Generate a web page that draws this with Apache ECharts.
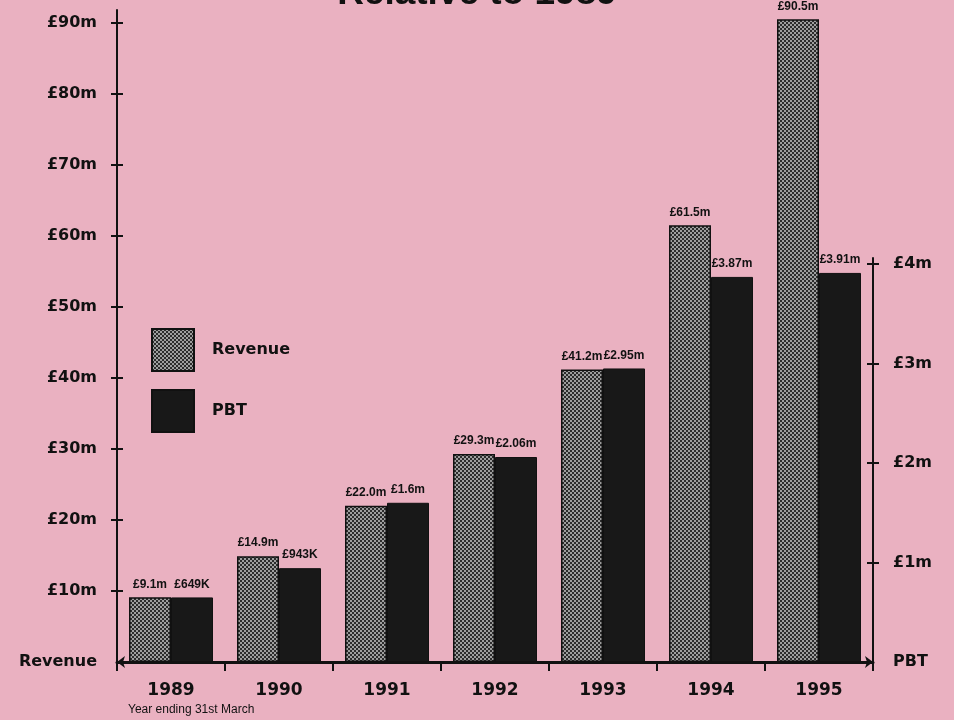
<!DOCTYPE html>
<html>
<head>
<meta charset="utf-8">
<script src="https://cdn.jsdelivr.net/npm/echarts@6/dist/echarts.min.js"></script>
<style>
html,body{margin:0;padding:0;background:#eab1c1;}
#chart{width:954px;height:720px;}
</style>
</head>
<body>
<div id="chart"></div>
<script>
// ---- data ----
const years = ['1989','1990','1991','1992','1993','1994','1995'];
const revenue = [9.1, 14.9, 22.0, 29.3, 41.2, 61.5, 90.5];      // £m
const pbt = [0.649, 0.943, 1.6, 2.06, 2.95, 3.87, 3.91];          // £m
const revenueLabels = ['£9.1m','£14.9m','£22.0m','£29.3m','£41.2m','£61.5m','£90.5m'];
const pbtLabels = ['£649K','£943K','£1.6m','£2.06m','£2.95m','£3.87m','£3.91m'];
const leftTicks = [10,20,30,40,50,60,70,80,90];
const leftLabels = [0,10,20,30,40,50,60,70,80,90];
const rightTicks = [1,2,3,4];
const rightLabels = [0,1,2,3,4];

// checker pattern for revenue bars
const pc = document.createElement('canvas');
pc.width = 4; pc.height = 4;
const pctx = pc.getContext('2d');
pctx.fillStyle = '#9e9e9e'; pctx.fillRect(0,0,4,4);
pctx.fillStyle = '#2c2c2c';
pctx.fillRect(0,0,2,2); pctx.fillRect(2,2,2,2);
const checker = {image: pc, repeat: 'repeat'};

const FONT = 'DejaVu Sans';
const INK = '#111111';
const chart = echarts.init(document.getElementById('chart'), null, {renderer:'canvas'});

const gridL = 117, gridR = 81, gridB = 58;
const labelStyle = {fontFamily: 'Liberation Sans', fontWeight: 'bold', fontSize: 12, color: INK};

chart.setOption({
  backgroundColor: '#eab1c1',
  animation: false,
  title: {
    text: 'Relative to 1989', left: 'center', top: -25, padding: 0,
    textStyle: {fontFamily: 'Liberation Sans', fontWeight: 'bold', fontSize: 37, color: INK}
  },
  legend: {
    data: ['Revenue', 'PBT'], orient: 'vertical', left: 146, top: 323,
    itemWidth: 42, itemHeight: 42, itemGap: 17, icon: 'rect',
    textStyle: {fontFamily: FONT, fontWeight: 'bold', fontSize: 16, color: INK, padding: [0,0,0,13]}
  },
  grid: [
    {left: gridL, right: gridR, top: 10, bottom: gridB},
    {left: gridL, right: gridR, top: 258, bottom: gridB}
  ],
  xAxis: [
    {type: 'category', gridIndex: 0, data: years,
     axisLine: {show: true, lineStyle: {color: INK, width: 3}, symbol: ['arrow','arrow'], symbolSize: [9,8]},
     axisTick: {show: true, length: 9, lineStyle: {color: INK, width: 2}},
     axisLabel: {margin: 20, fontFamily: FONT, fontWeight: 'bold', fontSize: 17, color: INK},
     splitLine: {show: false}},
    {type: 'category', gridIndex: 1, data: years, show: false}
  ],
  yAxis: [
    {type: 'value', gridIndex: 0, position: 'left', min: 0, max: 91.8,
     axisLine: {show: true, lineStyle: {color: INK, width: 2}},
     axisTick: {show: true, length: 6, customValues: leftTicks, lineStyle: {color: INK, width: 2}},
     axisLabel: {margin: 20, customValues: leftLabels, fontFamily: FONT, fontWeight: 'bold', fontSize: 16, color: INK,
       formatter: v => v === 0 ? 'Revenue' : '£' + v + 'm'},
     splitLine: {show: false}},
    {type: 'value', gridIndex: 0, position: 'left', min: 0, max: 91.8,
     axisLine: {show: false}, axisLabel: {show: false}, splitLine: {show: false},
     axisTick: {show: true, inside: true, length: 6, customValues: leftTicks, lineStyle: {color: INK, width: 2}}},
    {type: 'value', gridIndex: 1, position: 'right', min: 0, max: 4.06,
     axisLine: {show: true, lineStyle: {color: INK, width: 2}},
     axisTick: {show: true, length: 6, customValues: rightTicks, lineStyle: {color: INK, width: 2}},
     axisLabel: {margin: 20, customValues: rightLabels, fontFamily: FONT, fontWeight: 'bold', fontSize: 16, color: INK,
       formatter: v => v === 0 ? 'PBT' : '£' + v + 'm'},
     splitLine: {show: false}},
    {type: 'value', gridIndex: 1, position: 'right', min: 0, max: 4.06,
     axisLine: {show: false}, axisLabel: {show: false}, splitLine: {show: false},
     axisTick: {show: true, inside: true, length: 6, customValues: rightTicks, lineStyle: {color: INK, width: 2}}}
  ],
  series: [
    {name: 'Revenue', type: 'bar', xAxisIndex: 0, yAxisIndex: 0, data: revenue,
     barWidth: 42, barGap: '0%',
     itemStyle: {color: checker, borderColor: INK, borderWidth: 1.5},
     label: {show: true, position: 'top', distance: 7, ...labelStyle,
       formatter: p => revenueLabels[p.dataIndex]}},
    {name: 'spacerA', type: 'bar', xAxisIndex: 0, yAxisIndex: 0, data: [], barWidth: 42, barGap: '0%'},
    {name: 'spacerB', type: 'bar', xAxisIndex: 1, yAxisIndex: 2, data: [], barWidth: 42, barGap: '0%'},
    {name: 'PBT', type: 'bar', xAxisIndex: 1, yAxisIndex: 2, data: pbt,
     barWidth: 42, barGap: '0%',
     itemStyle: {color: '#181818', borderColor: INK, borderWidth: 1},
     label: {show: true, position: 'top', distance: 7, ...labelStyle,
       formatter: p => pbtLabels[p.dataIndex]}}
  ],
  graphic: [
    {type: 'text', left: 128, top: 704,
     style: {text: 'Year ending 31st March', fontFamily: 'Liberation Sans Narrow, Liberation Sans', fontSize: 12, fill: INK}}
  ]
});
</script>
</body>
</html>
